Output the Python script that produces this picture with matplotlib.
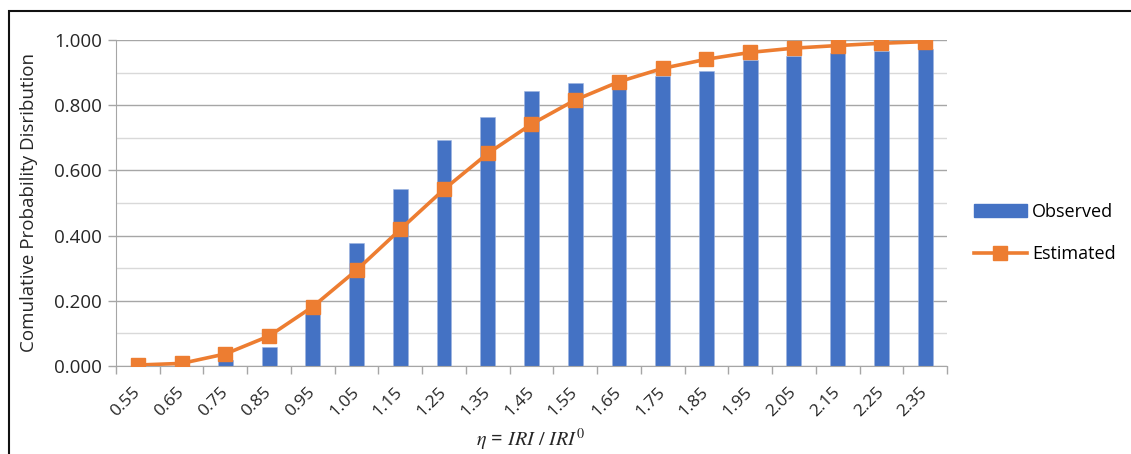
import numpy as np
import matplotlib
matplotlib.use("Agg")
import matplotlib.pyplot as plt
from matplotlib.patches import Rectangle
from matplotlib.lines import Line2D

plt.rcParams['font.family'] = ['Open Sans', 'DejaVu Sans']
plt.rcParams['mathtext.fontset'] = 'stix'

# data
categories = ['0.55', '0.65', '0.75', '0.85', '0.95', '1.05', '1.15', '1.25', '1.35', '1.45',
              '1.55', '1.65', '1.75', '1.85', '1.95', '2.05', '2.15', '2.25', '2.35']
observed = [0.000, 0.000, 0.018, 0.059, 0.158, 0.376, 0.543, 0.692, 0.763, 0.843,
            0.868, 0.862, 0.890, 0.904, 0.938, 0.952, 0.961, 0.967, 0.971]
estimated = [0.003, 0.008, 0.037, 0.092, 0.182, 0.294, 0.419, 0.542, 0.652, 0.742,
             0.816, 0.872, 0.913, 0.941, 0.962, 0.975, 0.983, 0.990, 0.995]

blue = '#4472C4'
orange = '#ED7D31'
txt = '#262626'

fig = plt.figure(figsize=(11.31, 4.54), dpi=100)
ax = fig.add_axes([116 / 1131, 1 - 366 / 454, (947 - 116) / 1131, (366 - 40) / 454])

x = np.arange(len(categories))
ax.bar(x, observed, width=0.34, color=blue, edgecolor='#9DB3E0', linewidth=0.4, zorder=2)
ax.plot(x, estimated, color=orange, lw=2.6, marker='s', markersize=10, zorder=3)

ax.set_xlim(-0.5, len(categories) - 0.5)
ax.set_ylim(0, 1.0)

# gridlines
ax.set_yticks(np.arange(0, 1.01, 0.2))
ax.set_yticklabels([f'{v:.3f}' for v in np.arange(0, 1.01, 0.2)])
ax.set_yticks(np.arange(0.1, 1.0, 0.2), minor=True)
ax.grid(axis='y', which='major', color='#A6A6A6', lw=1.0, zorder=0)
ax.grid(axis='y', which='minor', color='#D9D9D9', lw=1.0, zorder=0)
ax.set_axisbelow(True)

# x ticks: labels at centres, tick marks between categories
ax.set_xticks(x)
ax.set_xticklabels(categories, rotation=45, ha='right', va='center', rotation_mode='anchor')
ax.set_xticks(np.arange(-0.5, len(categories), 1.0), minor=True)
ax.tick_params(axis='x', which='major', length=0, pad=17, labelsize=12.5, colors=txt)
ax.tick_params(axis='x', which='minor', length=6, color='#A6A6A6', width=1.0)
ax.tick_params(axis='y', which='major', length=6, color='#A6A6A6', width=1.0, pad=4,
               labelsize=13.5, labelcolor=txt)
ax.tick_params(axis='y', which='minor', length=0)

for s in ['top', 'right']:
    ax.spines[s].set_visible(False)
ax.spines['left'].set_color('#A6A6A6')
ax.spines['bottom'].set_color('#A6A6A6')

ax.set_ylabel('Comulative Probability Disribution', fontsize=13.5, color=txt)
ax.yaxis.set_label_coords(-0.094, 0.5)
fig.text(531 / 1131, 1 - 440 / 454, r'$\eta$ = $IRI\ /\ IRI^0$', ha='center', va='center',
         fontsize=14.5, color=txt)

handles = [Rectangle((0, 0), 1, 1, color=blue),
           Line2D([0], [0], color=orange, lw=2.6, marker='s', markersize=10)]
fig.legend(handles, ['Observed', 'Estimated'], loc='center left',
           bbox_to_anchor=(958 / 1131, 1 - 233 / 454), frameon=False, fontsize=13,
           handlelength=2.9, handletextpad=0.3, labelspacing=1.35)

# outer frame (top and left edges visible)
fig.patches.append(Rectangle((9 / 1131, -0.2), 1.2, 1.2 - 11 / 454,
                             transform=fig.transFigure, fill=False, edgecolor='#111111',
                             lw=1.5, clip_on=False))

fig.savefig('out.png', dpi=100)
